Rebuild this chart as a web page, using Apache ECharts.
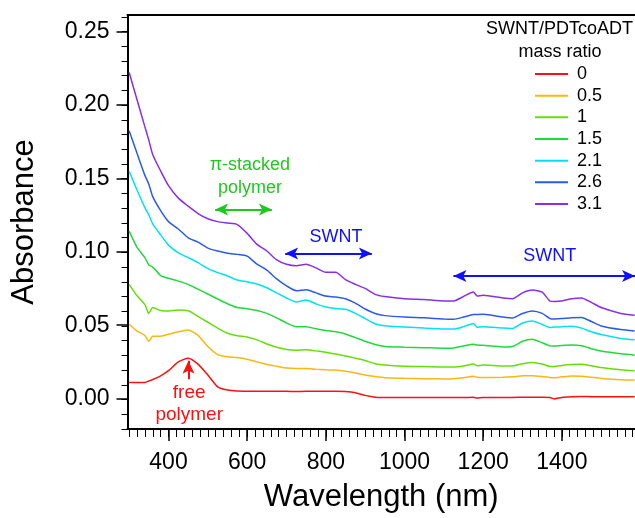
<!DOCTYPE html>
<html>
<head>
<meta charset="utf-8">
<script src="https://cdn.jsdelivr.net/npm/echarts@6/dist/echarts.min.js"></script>
<style>
html,body{margin:0;padding:0;background:#fff;}
#chart{width:635px;height:518px;}
</style>
</head>
<body>
<div id="chart"></div>
<script>
// ---- data ----
const wavelength = [300,320,340,350,360,380,400,425,450,475,500,525,550,575,600,625,650,675,700,725,750,775,800,825,850,875,900,925,950,1000,1050,1100,1125,1150,1175,1185,1200,1250,1275,1300,1325,1350,1370,1380,1400,1425,1450,1475,1500,1550,1585];

const abs_0   = [0.011,0.011,0.011,0.012,0.013,0.0155,0.019,0.025,0.0275,0.0235,0.016,0.008,0.0058,0.0051,0.005,0.005,0.005,0.005,0.005,0.0048,0.005,0.005,0.005,0.005,0.0048,0.004,0.0022,0.001,0.0008,0.0007,0.0007,0.0007,0.0008,0.0007,0.0009,0.0004,0.0008,0.0008,0.0008,0.0009,0.0009,0.0009,0.0008,-0.0002,0.0008,0.0012,0.0014,0.0013,0.0012,0.0012,0.0012];
const abs_05  = [0.0506,0.046,0.043,0.039,0.0425,0.0425,0.0438,0.0455,0.0467,0.043,0.0355,0.030,0.0285,0.028,0.0268,0.025,0.0232,0.022,0.0208,0.0205,0.0205,0.020,0.0196,0.0194,0.0186,0.0175,0.016,0.015,0.0142,0.0138,0.0136,0.0134,0.0136,0.0142,0.0152,0.0145,0.0143,0.0145,0.0148,0.0155,0.0155,0.015,0.0144,0.0142,0.0148,0.0154,0.0153,0.0145,0.0137,0.0128,0.0126];
const abs_1   = [0.0778,0.070,0.064,0.058,0.062,0.060,0.0597,0.0603,0.0598,0.056,0.052,0.048,0.0445,0.0428,0.042,0.040,0.0372,0.035,0.0335,0.033,0.0333,0.0325,0.0315,0.0303,0.029,0.0275,0.026,0.0238,0.0228,0.022,0.0218,0.0215,0.0215,0.0222,0.0236,0.0223,0.0228,0.0222,0.0222,0.0238,0.0246,0.0235,0.0219,0.0218,0.0226,0.0232,0.0234,0.0224,0.0212,0.0196,0.0189];
const abs_15  = [0.114,0.103,0.096,0.091,0.0895,0.0838,0.0819,0.080,0.0778,0.0745,0.0712,0.0678,0.0646,0.062,0.0612,0.060,0.058,0.055,0.0515,0.049,0.049,0.0475,0.0463,0.0455,0.044,0.0415,0.039,0.0368,0.0355,0.035,0.0347,0.0343,0.0345,0.0358,0.037,0.0365,0.0363,0.0352,0.0355,0.039,0.0404,0.038,0.0359,0.0358,0.0362,0.0365,0.036,0.034,0.0324,0.0305,0.0296];
const abs_21  = [0.1548,0.142,0.130,0.125,0.119,0.1115,0.1045,0.0993,0.096,0.0926,0.0885,0.0858,0.0835,0.0808,0.0795,0.078,0.0755,0.072,0.0685,0.0658,0.0672,0.0645,0.0624,0.0614,0.0608,0.058,0.0545,0.051,0.0496,0.0488,0.048,0.0474,0.0474,0.049,0.0512,0.0485,0.049,0.048,0.0478,0.0515,0.0528,0.0505,0.0484,0.0487,0.049,0.0493,0.048,0.0455,0.0436,0.041,0.040];
const abs_26  = [0.1824,0.167,0.152,0.146,0.1375,0.128,0.1205,0.1155,0.1095,0.1065,0.1025,0.1005,0.099,0.0982,0.097,0.0915,0.0875,0.0815,0.0768,0.0735,0.0742,0.072,0.0698,0.0692,0.068,0.065,0.061,0.058,0.0565,0.0555,0.055,0.0542,0.054,0.0555,0.0572,0.0573,0.0574,0.0555,0.0548,0.058,0.0597,0.058,0.0545,0.0542,0.0545,0.055,0.0552,0.0525,0.0495,0.047,0.046];
const abs_31  = [0.222,0.2035,0.185,0.176,0.166,0.155,0.145,0.1365,0.131,0.126,0.1225,0.1205,0.1195,0.1185,0.1125,0.105,0.1005,0.0945,0.0915,0.0905,0.0915,0.089,0.086,0.086,0.081,0.0778,0.075,0.071,0.0695,0.068,0.0675,0.0665,0.0665,0.0695,0.0726,0.0698,0.0703,0.0685,0.068,0.072,0.0739,0.0725,0.0664,0.0662,0.0665,0.068,0.0685,0.0655,0.062,0.058,0.0567];

const ratios = ['0','0.5','1','1.5','2.1','2.6','3.1'];
const seriesValues = [abs_0, abs_05, abs_1, abs_15, abs_21, abs_26, abs_31];
const xTickLabels = [400,600,800,1000,1200,1400];
const yTickLabels = [0,0.05,0.10,0.15,0.20,0.25];

// ---- styles ----
const colors = ['#ff1010','#fbb714','#66de0a','#22d83c','#00e2f2','#2a5ce8','#8a2ee8'];
const FONT = 'Liberation Sans, Arial, sans-serif';
const X_MIN = 295.8, X_MAX = 1586, Y_MIN = -0.0207, Y_MAX = 0.2612;

const xMinor = []; for (let v = 300; v <= 1580; v += 20) xMinor.push(v);
const yMinor = []; for (let k = -2; k <= 26; k++) yMinor.push(+(k * 0.01).toFixed(2));

const chart = echarts.init(document.getElementById('chart'), null, {renderer:'canvas'});

const lineSeries = ratios.map((name, i) => ({
  name: name,
  type: 'line',
  xAxisIndex: 0, yAxisIndex: 0,
  showSymbol: false,
  symbol: 'none',
  smooth: 0.2,
  lineStyle: {color: colors[i], width: 1.5},
  itemStyle: {color: colors[i]},
  data: wavelength.map((w, j) => [w, seriesValues[i][j]]),
  z: 3
}));

function arrowLine(x1, x2, y, color) {
  return [{coord:[x1,y], lineStyle:{color:color, width:2, type:'solid'}}, {coord:[x2,y]}];
}

const annotSeries = {
  name: 'annot', type: 'line', data: [], xAxisIndex: 0, yAxisIndex: 0, silent: true,
  markLine: {
    silent: true, animation: false,
    symbol: ['arrow','arrow'], symbolSize: [9, 13],
    label: {show: false},
    data: [
      arrowLine(518.7, 662.8, 0.1287, '#1fc81f'),
      arrowLine(696.6, 917, 0.0988, '#1010ff'),
      arrowLine(1124.5, 1586, 0.0834, '#1010ff')
    ]
  },
  markPoint: {
    silent: true, animation: false, symbol: 'circle', symbolSize: 1,
    itemStyle: {color: 'rgba(0,0,0,0)'},
    data: [
      {coord:[607, 0.1512], label:{show:true, position:'inside', formatter:'π-stacked\npolymer', color:'#1fc81f', fontSize:18, lineHeight:22.5, fontFamily:FONT, align:'center'}},
      {coord:[826, 0.1099], label:{show:true, position:'inside', formatter:'SWNT', color:'#1010ff', fontSize:18, fontFamily:FONT}},
      {coord:[1369.5, 0.0968], label:{show:true, position:'inside', formatter:'SWNT', color:'#1010ff', fontSize:18, fontFamily:FONT}},
      {coord:[452.6, -0.0037], label:{show:true, position:'inside', formatter:'free\npolymer', color:'#ff1010', fontSize:19, lineHeight:22, fontFamily:FONT, align:'center'}}
    ]
  }
};

const redArrow = {
  name: 'annot2', type: 'line', data: [], xAxisIndex: 0, yAxisIndex: 0, silent: true,
  markLine: {
    silent: true, animation: false,
    symbol: ['none','arrow'], symbolSize: [9, 13],
    label: {show: false},
    data: [[{coord:[450.8, 0.0132], lineStyle:{color:'#ff1010', width:2, type:'solid'}}, {coord:[450.8, 0.0257]}]]
  }
};

const gridBox = {left: 127.5, right: 0, top: 15, bottom: 88, containLabel: false};

const option = {
  animation: false,
  backgroundColor: '#fff',
  textStyle: {fontFamily: FONT},
  grid: [Object.assign({}, gridBox), Object.assign({}, gridBox)],
  legend: {
    data: ratios,
    orient: 'vertical',
    left: 535, top: 64, padding: 0,
    icon: 'rect', itemWidth: 33, itemHeight: 2,
    itemGap: 1.67,
    selectedMode: false,
    textStyle: {fontSize: 18, color: '#000', fontFamily: FONT, lineHeight: 20, padding: [0,0,0,4]}
  },
  graphic: [
    {type:'text', x: 633, y: 29, style:{text:'SWNT/PDTcoADT', fill:'#000', font:'18px ' + FONT, textAlign:'right', textVerticalAlign:'middle'}},
    {type:'text', x: 560, y: 52, style:{text:'mass ratio', fill:'#000', font:'18px ' + FONT, textAlign:'center', textVerticalAlign:'middle'}}
  ],
  xAxis: [
    {
      gridIndex: 0, type: 'value', position: 'bottom', min: X_MIN, max: X_MAX,
      name: 'Wavelength (nm)', nameLocation: 'middle', nameGap: 53,
      nameTextStyle: {fontSize: 31, color: '#000', fontFamily: FONT},
      axisLine: {show: true, onZero: false, lineStyle: {color: '#000', width: 2}},
      axisTick: {show: true, customValues: xTickLabels, length: 12, lineStyle: {color: '#000', width: 1.5}},
      axisLabel: {show: true, customValues: xTickLabels, margin: 22, fontSize: 23, color: '#000', fontFamily: FONT,
                  formatter: v => String(Math.round(v))},
      splitLine: {show: false}
    },
    {
      gridIndex: 0, type: 'value', position: 'top', min: X_MIN, max: X_MAX,
      axisLine: {show: true, onZero: false, lineStyle: {color: '#000', width: 2}},
      axisTick: {show: false}, axisLabel: {show: false}, splitLine: {show: false}
    },
    {
      gridIndex: 1, type: 'value', position: 'bottom', min: X_MIN, max: X_MAX,
      axisLine: {show: false, onZero: false},
      axisTick: {show: true, customValues: xMinor, length: 7, lineStyle: {color: '#000', width: 1}},
      axisLabel: {show: false},
      splitLine: {show: false}
    }
  ],
  yAxis: [
    {
      gridIndex: 0, type: 'value', position: 'left', min: Y_MIN, max: Y_MAX,
      name: 'Absorbance', nameLocation: 'middle', nameGap: 88, nameRotate: 90,
      nameTextStyle: {fontSize: 31, color: '#000', fontFamily: FONT},
      axisLine: {show: true, onZero: false, lineStyle: {color: '#000', width: 2}},
      axisTick: {show: true, customValues: yTickLabels, length: 11, lineStyle: {color: '#000', width: 1.5}},
      axisLabel: {show: true, customValues: yTickLabels, margin: 18, fontSize: 23, color: '#000', fontFamily: FONT,
                  formatter: v => v.toFixed(2)},
      splitLine: {show: false}
    },
    {
      gridIndex: 1, type: 'value', position: 'left', min: Y_MIN, max: Y_MAX,
      axisLine: {show: false, onZero: false},
      axisTick: {show: true, customValues: yMinor, length: 6, lineStyle: {color: '#000', width: 1}},
      axisLabel: {show: false},
      splitLine: {show: false}
    }
  ],
  series: lineSeries.concat([annotSeries, redArrow])
};

chart.setOption(option);
</script>
</body>
</html>
